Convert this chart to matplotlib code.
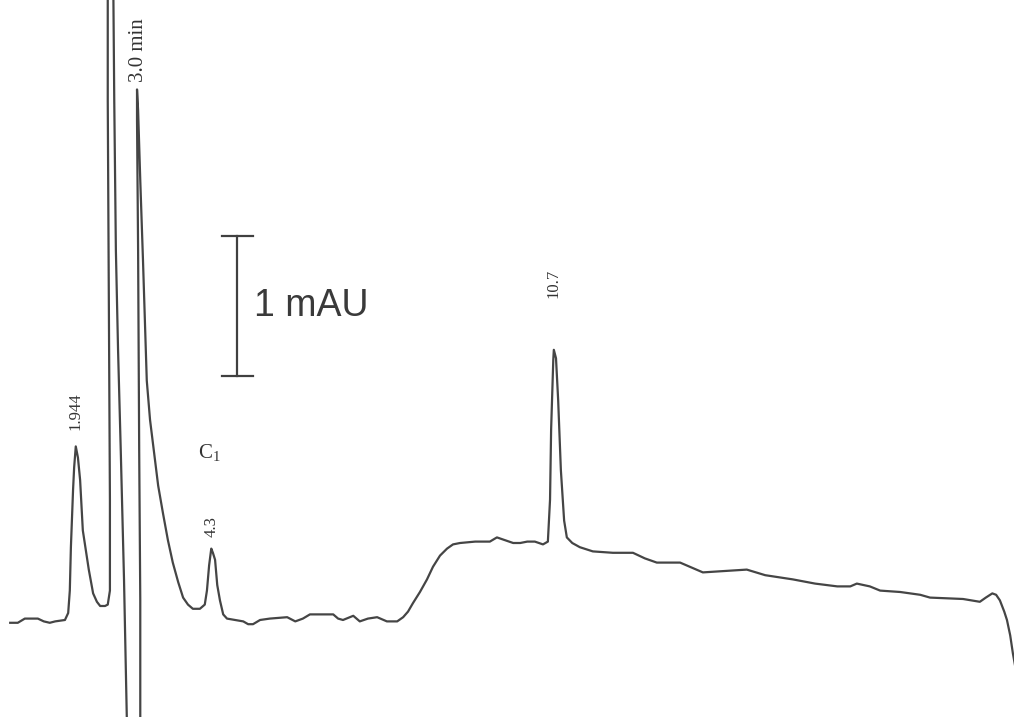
import matplotlib
matplotlib.use('Agg')
import matplotlib.pyplot as plt

# chromatogram trace, time in minutes, signal in mAU
time_min = [0.66, 0.80, 0.93, 1.17, 1.28, 1.39, 1.49, 1.67, 1.73, 1.76,
            1.78, 1.82, 1.84, 1.87, 1.91, 1.95, 2.00, 2.06, 2.11, 2.19,
            2.26, 2.32, 2.41, 2.46, 2.50, 2.50, 2.48, 2.46, 2.46, 2.56,
            2.58, 2.61, 2.65, 2.70, 2.76, 2.82, 3.06, 3.06, 3.04, 3.02,
            3.00, 3.00, 3.02, 3.06, 3.11, 3.18, 3.24, 3.30, 3.39, 3.48,
            3.57, 3.66, 3.76, 3.85, 3.94, 4.03, 4.16, 4.25, 4.29, 4.33,
            4.37, 4.40, 4.44, 4.48, 4.53, 4.59, 4.66, 4.81, 4.96, 5.05,
            5.14, 5.27, 5.45, 5.77, 5.92, 6.06, 6.19, 6.41, 6.62, 6.71,
            6.80, 6.99, 7.11, 7.26, 7.43, 7.61, 7.80, 7.91, 8.00, 8.09,
            8.22, 8.35, 8.46, 8.59, 8.72, 8.83, 8.96, 9.24, 9.51, 9.64,
            9.79, 9.94, 10.07, 10.20, 10.34, 10.49, 10.58, 10.62, 10.64, 10.68,
            10.69, 10.73, 10.77, 10.82, 10.88, 10.93, 11.03, 11.17, 11.41, 11.78,
            12.15, 12.37, 12.59, 13.02, 13.20, 13.44, 13.85, 14.25, 14.59, 15.10,
            15.51, 15.92, 16.16, 16.28, 16.52, 16.71, 17.08, 17.45, 17.63, 18.24,
            18.55, 18.66, 18.78, 18.85, 18.92, 19.00, 19.05, 19.11, 19.16, 19.22]
signal_mau = [-0.02, -0.02, 0.01, 0.01, -0.01, -0.02, -0.01, 0.00, 0.05, 0.21,
              0.52, 0.93, 1.09, 1.24, 1.16, 1.00, 0.64, 0.49, 0.36, 0.19,
              0.13, 0.10, 0.10, 0.11, 0.21, 0.86, 2.29, 3.71, 4.64, 4.64,
              3.71, 2.64, 1.93, 1.21, 0.29, -0.86, -0.86, 0.14, 1.21, 2.64,
              3.57, 3.79, 3.64, 3.14, 2.57, 1.71, 1.43, 1.24, 0.96, 0.76,
              0.57, 0.41, 0.27, 0.16, 0.11, 0.08, 0.08, 0.11, 0.21, 0.39,
              0.51, 0.48, 0.43, 0.25, 0.14, 0.04, 0.01, 0.00, -0.01, -0.03,
              -0.03, 0.00, 0.01, 0.02, -0.01, 0.01, 0.04, 0.04, 0.04, 0.01,
              0.00, 0.03, -0.01, 0.01, 0.02, -0.01, -0.01, 0.02, 0.06, 0.12,
              0.20, 0.29, 0.38, 0.46, 0.51, 0.54, 0.55, 0.56, 0.56, 0.59,
              0.57, 0.55, 0.55, 0.56, 0.56, 0.54, 0.56, 0.86, 1.36, 1.86,
              1.93, 1.87, 1.57, 1.07, 0.71, 0.59, 0.55, 0.52, 0.49, 0.48,
              0.48, 0.44, 0.41, 0.41, 0.38, 0.34, 0.35, 0.36, 0.32, 0.29,
              0.26, 0.24, 0.24, 0.26, 0.24, 0.21, 0.20, 0.18, 0.16, 0.15,
              0.13, 0.16, 0.19, 0.18, 0.14, 0.06, 0.00, -0.11, -0.24, -0.37]

# peak labels: text, time, bottom of label (mAU), size
peak_labels = ['1.944', '3.0 min', '4.3', '10.7']
peak_times = [1.87, 3.02, 4.38, 10.69]
peak_label_y = [1.36, 3.84, 0.59, 2.30]
peak_label_size = [12, 15, 12, 12]

trace_color = '#454545'
plt.rcParams['mathtext.default'] = 'regular'

fig = plt.figure(figsize=(10.14, 7.17), dpi=100)
ax = fig.add_axes([0, 0, 1, 1])
ax.plot(time_min, signal_mau, color=trace_color, linewidth=1.6,
        solid_joinstyle='round')

for lab, t, y, fs in zip(peak_labels, peak_times, peak_label_y, peak_label_size):
    ax.text(t, y, lab, rotation=90, ha='center', va='bottom',
            fontsize=fs, family='Liberation Serif', color='#333333')

# compound label
ax.text(4.33, 1.2, r'C$_{\mathregular{1}}$', ha='center', va='center',
        fontsize=15, family='Liberation Serif', color='#333333')

# 1 mAU scale bar
bar_t = 4.85
bar_lo, bar_hi = 1.74, 2.74
ax.plot([bar_t, bar_t], [bar_lo, bar_hi], color='#404040', linewidth=1.6)
ax.plot([4.57, 5.14], [bar_lo, bar_lo], color='#404040', linewidth=1.6)
ax.plot([4.57, 5.14], [bar_hi, bar_hi], color='#404040', linewidth=1.6)
ax.text(5.16, (bar_lo + bar_hi) / 2, '1 mAU', ha='left', va='center',
        fontsize=27, family='Liberation Sans', color='#3a3a3a')

ax.set_xlim(0.472, 19.18)
ax.set_ylim(-0.693, 4.429)
ax.axis('off')

fig.savefig('out.png', dpi=100)
